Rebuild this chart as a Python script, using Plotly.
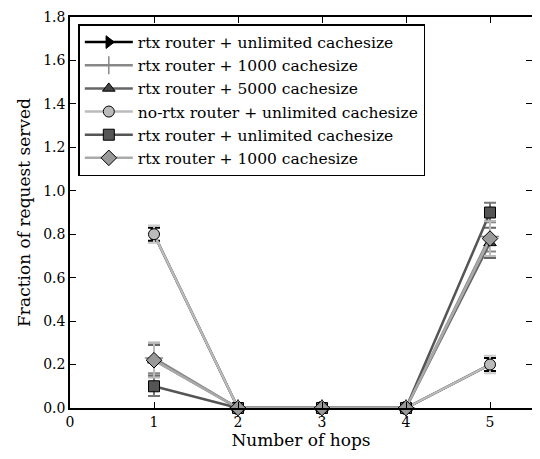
import plotly.graph_objects as go

hops = [1, 2, 3, 4, 5]
names = [
    "rtx router + unlimited cachesize",
    "rtx router + 1000 cachesize",
    "rtx router + 5000 cachesize",
    "no-rtx router + unlimited cachesize",
    "rtx router + unlimited cachesize",
    "rtx router + 1000 cachesize",
]
vals_arrow = [0.80, 0.0, 0.0, 0.0, 0.20]
err_arrow = [0.03, 0.0, 0.0, 0.0, 0.03]
vals_plus = [0.23, 0.0, 0.0, 0.0, 0.79]
err_plus = [0.07, 0.0, 0.0, 0.0, 0.07]
vals_tri = [0.22, 0.0, 0.0, 0.0, 0.76]
err_tri = [0.07, 0.0, 0.0, 0.0, 0.07]
vals_circ = [0.80, 0.0, 0.0, 0.0, 0.20]
err_circ = [0.04, 0.0, 0.0, 0.0, 0.04]
vals_sq = [0.10, 0.0, 0.0, 0.0, 0.90]
err_sq = [0.045, 0.0, 0.0, 0.0, 0.045]
vals_dia = [0.22, 0.0, 0.0, 0.0, 0.78]
err_dia = [0.08, 0.0, 0.0, 0.0, 0.08]

series = [
    (vals_arrow, err_arrow, "triangle-right", "#000000", "#000000", "#000000", 11),
    (vals_plus, err_plus, "line-ns", "#888888", "#888888", "#888888", 11),
    (vals_tri, err_tri, "triangle-up", "#444444", "#666666", "#666666", 11),
    (vals_circ, err_circ, "circle", "#bbbbbb", "#bbbbbb", "#cccccc", 11),
    (vals_sq, err_sq, "square", "#555555", "#555555", "#777777", 11),
    (vals_dia, err_dia, "diamond", "#999999", "#aaaaaa", "#bbbbbb", 12),
]

fig = go.Figure()
for (v, e, sym, mcol, lcol, ecol, size), name in zip(series, names):
    marker = dict(symbol=sym, size=size, color=mcol, line=dict(color="#000000", width=1))
    if sym == "line-ns":
        marker = dict(symbol="cross-thin", size=13, color=mcol, line=dict(color=mcol, width=1.5))
    fig.add_trace(go.Scatter(
        x=hops, y=v, name=name, mode="lines+markers",
        line=dict(color=lcol, width=2.5),
        marker=marker,
        error_y=dict(type="data", array=e, visible=True, color=ecol, thickness=2, width=6),
        cliponaxis=False,
    ))

font = "DejaVu Serif"
# the page body has an 8px margin: figure is shifted by 8px right and down
fig.update_layout(
    width=532, height=451,
    margin=dict(l=62, r=8, t=9, b=51),
    paper_bgcolor="white", plot_bgcolor="white",
    font=dict(family=font, size=14, color="black"),
    showlegend=True,
    legend=dict(x=0.018, y=0.982, xanchor="left", yanchor="top",
                bgcolor="white", bordercolor="black", borderwidth=1.5,
                font=dict(family=font, size=15.5), tracegroupgap=0,
                itemwidth=48),
    xaxis=dict(range=[0, 5.5], tickvals=[0, 1, 2, 3, 4, 5], ticks="inside",
               ticklen=6, tickcolor="black", showgrid=False, zeroline=False,
               showline=True, linecolor="black", linewidth=1.5, mirror="ticks",
               automargin=False,
               title=dict(text="Number of hops", standoff=6)),
    yaxis=dict(range=[0, 1.8], tickvals=[0, 0.2, 0.4, 0.6, 0.8, 1.0, 1.2, 1.4, 1.6, 1.8],
               tickformat=".1f", ticks="inside", ticklen=6, tickcolor="black",
               showgrid=False, zeroline=False, showline=True, linecolor="black",
               linewidth=1.5, mirror="ticks", automargin=False,
               title=dict(text="Fraction of request served", standoff=8)),
)
fig.write_html("out.html")
